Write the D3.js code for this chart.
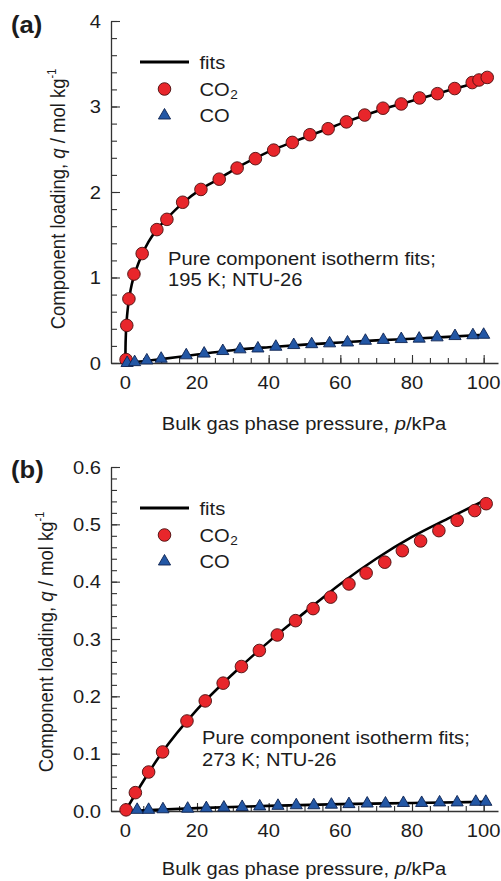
<!DOCTYPE html>
<html>
<head>
<meta charset="utf-8">
<script src="https://cdn.jsdelivr.net/npm/d3@7"></script>
<style>
  body { margin: 0; background: #fff; }
  svg { display: block; }
  text { font-family: "Liberation Sans", Arial, Helvetica, sans-serif; fill: #1c1c1c; }
</style>
</head>
<body>
<svg id="chart" width="501" height="881"></svg>
<script>
// ---------- Panel (a): 195 K ----------
const co2Pressure195 = [0.2, 0.4, 1.0, 2.4, 4.7, 8.8, 11.6, 16.0, 21.1, 26.2, 31.2, 36.3, 41.4, 46.6, 51.5, 56.6, 61.7, 66.8, 71.9, 77.0, 82.1, 87.1, 91.9, 96.8, 98.7, 101.0];
const co2Loading195  = [0.04, 0.44, 0.75, 1.04, 1.28, 1.56, 1.68, 1.88, 2.03, 2.15, 2.28, 2.39, 2.49, 2.58, 2.67, 2.74, 2.82, 2.90, 2.98, 3.03, 3.10, 3.15, 3.21, 3.28, 3.31, 3.34];
const coPressure195  = [0.5, 2.6, 6.0, 10.0, 17.0, 22.0, 27.2, 32.0, 37.0, 42.0, 47.0, 52.0, 57.0, 62.0, 67.0, 72.0, 77.0, 82.0, 87.0, 92.0, 97.0, 100.0];
const coLoading195   = [0.0, 0.01, 0.03, 0.05, 0.09, 0.11, 0.14, 0.16, 0.17, 0.19, 0.21, 0.22, 0.23, 0.24, 0.26, 0.27, 0.28, 0.285, 0.30, 0.315, 0.325, 0.33];
const co2FitPressure195 = [0, 0.05, 0.15, 0.3, 0.5, 0.8, 1.2, 1.8, 2.6, 3.6, 4.8, 6.5, 8.8, 11.6, 16, 21, 26, 31, 36, 41, 46.5, 51.5, 56.5, 61.5, 67, 72, 77, 82, 87, 92, 97, 101];
const co2FitLoading195  = [0, 0.18, 0.33, 0.45, 0.56, 0.68, 0.79, 0.92, 1.04, 1.16, 1.28, 1.42, 1.56, 1.69, 1.87, 2.03, 2.15, 2.28, 2.39, 2.49, 2.58, 2.66, 2.74, 2.82, 2.90, 2.97, 3.03, 3.09, 3.15, 3.21, 3.27, 3.34];
const coFitPressure195  = [0, 5, 10, 20, 30, 40, 50, 60, 70, 80, 90, 100];
const coFitLoading195   = [0, 0.02, 0.045, 0.10, 0.15, 0.185, 0.215, 0.24, 0.265, 0.283, 0.305, 0.33];
const yTicks195 = [0, 1, 2, 3, 4];

// ---------- Panel (b): 273 K ----------
const co2Pressure273 = [0.2, 2.8, 6.5, 10.4, 17.2, 22.3, 27.3, 32.4, 37.4, 42.4, 47.5, 52.4, 57.3, 62.4, 67.2, 72.4, 77.3, 82.4, 87.5, 92.6, 97.5, 100.7];
const co2Loading273  = [0.002, 0.032, 0.068, 0.103, 0.157, 0.192, 0.223, 0.252, 0.280, 0.307, 0.332, 0.353, 0.373, 0.396, 0.415, 0.434, 0.454, 0.471, 0.489, 0.507, 0.524, 0.536];
const coPressure273  = [3.3, 6.5, 10.5, 17.4, 22.6, 27.5, 32.6, 37.5, 42.6, 47.7, 52.6, 57.5, 62.4, 67.5, 72.6, 77.6, 82.7, 87.7, 92.6, 97.8, 100.6];
const coLoading273   = [0.002, 0.002, 0.003, 0.004, 0.005, 0.006, 0.007, 0.008, 0.009, 0.010, 0.010, 0.011, 0.012, 0.013, 0.013, 0.014, 0.014, 0.015, 0.015, 0.016, 0.016];
const co2FitPressure273 = [0, 5, 10, 20, 30, 40, 50, 60, 70, 80, 90, 100];
const co2FitLoading273  = [0, 0.052, 0.100, 0.177, 0.239, 0.295, 0.346, 0.396, 0.440, 0.478, 0.510, 0.541];
const coFitPressure273  = [0, 20, 40, 60, 80, 100];
const coFitLoading273   = [0, 0.005, 0.009, 0.012, 0.014, 0.016];
const yTicks273 = [0, 0.1, 0.2, 0.3, 0.4, 0.5, 0.6];

const xTicks = [0, 20, 40, 60, 80, 100];
const legendLabels = ["fits", "CO", "CO"];

// ---------- layout and style ----------
const SX = 1.09;               // horizontal glyph stretch
const RED = "#e8262b", RED_EDGE = "#4a1010";
const BLUE = "#2357a5", BLUE_EDGE = "#0d2250";
const AXIS = "#333";

const zip = (a, b) => a.map((v, i) => [v, b[i]]);

const panels = [
  {
    tag: "(a)", tagY: 33, top: 21, bottom: 363, yMax: 4, minorStep: 0.2,
    yTicks: yTicks195, fmt: d3.format("d"),
    co2: zip(co2Pressure195, co2Loading195), co: zip(coPressure195, coLoading195),
    co2Fit: zip(co2FitPressure195, co2FitLoading195), coFit: zip(coFitPressure195, coFitLoading195),
    titleX: 65, titleY: 199, xTitleY: 430, legendY: 62,
    noteX: 168, noteY: 265, noteGap: 21, note: ["Pure component isotherm fits;", "195 K; NTU-26"]
  },
  {
    tag: "(b)", tagY: 478, top: 467, bottom: 811, yMax: 0.6, minorStep: 0.02,
    yTicks: yTicks273, fmt: d3.format(".1f"),
    co2: zip(co2Pressure273, co2Loading273), co: zip(coPressure273, coLoading273),
    co2Fit: zip(co2FitPressure273, co2FitLoading273), coFit: zip(coFitPressure273, coFitLoading273),
    titleX: 53, titleY: 642, xTitleY: 875, legendY: 508,
    noteX: 202, noteY: 744, noteGap: 22, note: ["Pure component isotherm fits;", "273 K; NTU-26"]
  }
];

const svg = d3.select("#chart");
svg.append("rect").attr("width", 501).attr("height", 881).attr("fill", "#fff");

function stretched(sel, x, y, size, anchor, extra) {
  return sel.append("text")
    .attr("transform", `translate(${x},${y}) scale(${SX},1)` + (extra || ""))
    .attr("text-anchor", anchor || "start")
    .attr("font-size", size);
}

const tri = d3.symbol(d3.symbolTriangle, 64);

panels.forEach(P => {
  const g = svg.append("g");
  const x = d3.scaleLinear().domain([-4, 104]).range([111, 498]);
  const y = d3.scaleLinear().domain([0, P.yMax]).range([P.bottom, P.top]);

  // minor ticks
  g.append("g").attr("transform", `translate(111,0)`)
    .call(d3.axisLeft(y).tickValues(d3.range(0, P.yMax + P.minorStep / 2, P.minorStep)).tickFormat("").tickSize(-6).tickSizeOuter(0))
    .call(s => s.select(".domain").remove())
    .call(s => s.selectAll("line").attr("stroke", AXIS).attr("stroke-width", 1.1));
  g.append("g").attr("transform", `translate(0,${P.bottom})`)
    .call(d3.axisBottom(x).tickValues(d3.range(0, 101, 5)).tickFormat("").tickSize(-5).tickSizeOuter(0))
    .call(s => s.select(".domain").remove())
    .call(s => s.selectAll("line").attr("stroke", AXIS).attr("stroke-width", 1.1));

  // major ticks and axis lines
  g.append("g").attr("transform", `translate(111,0)`)
    .call(d3.axisLeft(y).tickValues(P.yTicks).tickFormat("").tickSize(-9).tickSizeOuter(0))
    .call(s => s.select(".domain").attr("stroke", AXIS).attr("stroke-width", 1.3))
    .call(s => s.selectAll("line").attr("stroke", AXIS).attr("stroke-width", 1.1));
  g.append("g").attr("transform", `translate(0,${P.bottom})`)
    .call(d3.axisBottom(x).tickValues(xTicks).tickFormat("").tickSize(-8).tickSizeOuter(0))
    .call(s => s.select(".domain").attr("stroke", AXIS).attr("stroke-width", 1.3))
    .call(s => s.selectAll("line").attr("stroke", AXIS).attr("stroke-width", 1.1));

  // tick labels
  P.yTicks.forEach(v => stretched(g, 101, y(v) + 6.6, 18.5, "end").text(P.fmt(v)));
  xTicks.forEach(v => stretched(g, x(v), P.bottom + 26, 18.5, "middle").text(v));

  // axis titles
  const xt = stretched(g, 304, P.xTitleY, 18.5, "middle");
  xt.append("tspan").text("Bulk gas phase pressure, ");
  xt.append("tspan").attr("font-style", "italic").text("p");
  xt.append("tspan").text("/kPa");

  const yt = g.append("text")
    .attr("transform", `translate(${P.titleX},${P.titleY}) scale(${SX},1) rotate(-90)`)
    .attr("text-anchor", "middle").attr("font-size", 18.5);
  yt.append("tspan").text("Component loading, ");
  yt.append("tspan").attr("font-style", "italic").text("q");
  yt.append("tspan").text(" / mol kg");
  yt.append("tspan").attr("font-size", 11).attr("dy", -8).text("-1");

  // panel tag
  stretched(g, 11, P.tagY, 23.5, "start").attr("font-weight", "bold").text(P.tag);

  // fitted isotherms
  const line = d3.line().x(d => x(d[0])).y(d => y(d[1])).curve(d3.curveMonotoneX);
  g.append("path").datum(P.co2Fit).attr("d", line)
    .attr("fill", "none").attr("stroke", "#000").attr("stroke-width", 2.6);
  g.append("path").datum(P.coFit).attr("d", line)
    .attr("fill", "none").attr("stroke", "#000").attr("stroke-width", 2.6);

  // data points
  g.append("g").selectAll("circle").data(P.co2).join("circle")
    .attr("cx", d => x(d[0])).attr("cy", d => y(d[1])).attr("r", 6.3)
    .attr("fill", RED).attr("stroke", RED_EDGE).attr("stroke-width", 0.9);
  g.append("g").selectAll("path").data(P.co).join("path")
    .attr("d", tri).attr("transform", d => `translate(${x(d[0])},${y(d[1])})`)
    .attr("fill", BLUE).attr("stroke", BLUE_EDGE).attr("stroke-width", 0.9);

  // legend
  const L = P.legendY;
  g.append("line").attr("x1", 140).attr("x2", 189).attr("y1", L).attr("y2", L)
    .attr("stroke", "#000").attr("stroke-width", 3);
  g.append("circle").attr("cx", 164.5).attr("cy", L + 27).attr("r", 6.3)
    .attr("fill", RED).attr("stroke", RED_EDGE).attr("stroke-width", 0.9);
  g.append("path").attr("d", tri).attr("transform", `translate(164.5,${L + 53.5})`)
    .attr("fill", BLUE).attr("stroke", BLUE_EDGE).attr("stroke-width", 0.9);
  stretched(g, 199.5, L + 6.5, 18.5).text(legendLabels[0]);
  const co2Label = stretched(g, 199.5, L + 33.5, 18.5);
  co2Label.append("tspan").text(legendLabels[1]);
  co2Label.append("tspan").attr("font-size", 12.5).attr("dx", 0.5).attr("dy", 3.5).text("2");
  stretched(g, 199.5, L + 60, 18.5).text(legendLabels[2]);

  // annotation
  P.note.forEach((t, i) => stretched(g, P.noteX, P.noteY + i * P.noteGap, 18.5).text(t));
});
</script>
</body>
</html>
